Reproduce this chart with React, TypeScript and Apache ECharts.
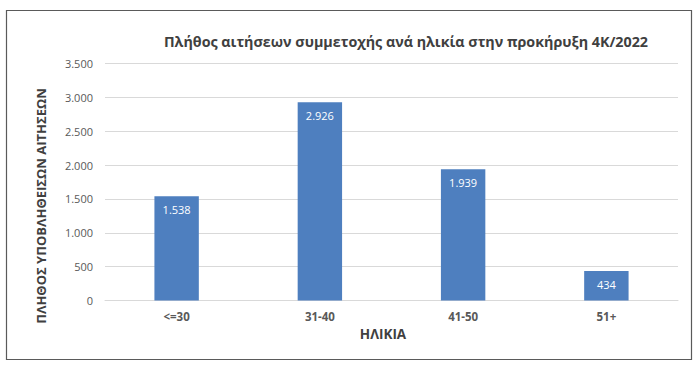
import React, { useEffect, useRef } from "react";
import * as echarts from "echarts";

const categories = ["<=30", "31-40", "41-50", "51+"];
const values = [1538, 2926, 1939, 434];
const yMin = 0;
const yMax = 3500;
const yInterval = 500;
const titleText = "Πλήθος αιτήσεων συμμετοχής ανά ηλικία στην προκήρυξη 4Κ/2022";
const xName = "ΗΛΙΚΙΑ";
const yName = "ΠΛΗΘΟΣ ΥΠΟΒΛΗΘΕΙΣΩΝ ΑΙΤΗΣΕΩΝ";

const fmt = (v: number) => String(v).replace(/\B(?=(\d{3})+(?!\d))/g, ".");

const FONT = "'Open Sans', 'Noto Sans', sans-serif";

export default function App() {
  const ref = useRef<HTMLDivElement>(null);
  useEffect(() => {
    if (!ref.current) return;
    const chart = echarts.init(ref.current, null, { renderer: "svg" });
    chart.setOption({
      animation: false,
      backgroundColor: "#ffffff",
      title: {
        text: titleText,
        left: 401,
        top: 29,
        textAlign: "center",
        textStyle: { fontFamily: FONT, fontSize: 14.3, fontWeight: "bold", color: "#404040" },
      },
      graphic: [
        {
          type: "rect",
          shape: { x: 6.5, y: 10.5, width: 685, height: 349 },
          style: { fill: "none", stroke: "#5a5a5a", lineWidth: 1.2 },
          silent: true,
        },
        {
          type: "text",
          x: 41,
          y: 206,
          rotation: Math.PI / 2,
          style: {
            text: yName,
            fontFamily: FONT,
            fontSize: 13,
            fontWeight: "bold",
            fill: "#404040",
            align: "center",
            verticalAlign: "middle",
          },
        },
        {
          type: "text",
          x: 383,
          y: 334,
          style: {
            text: xName,
            fontFamily: FONT,
            fontSize: 13.5,
            fontWeight: "bold",
            fill: "#404040",
            align: "center",
            verticalAlign: "middle",
          },
        },
      ],
      grid: { left: 105, right: 22, top: 63.5, bottom: 67.5, containLabel: false },
      xAxis: {
        type: "category",
        data: categories,
        axisLine: { show: true, lineStyle: { color: "#d9d9d9", width: 1 } },
        axisTick: { show: false },
        axisLabel: { fontFamily: FONT, fontSize: 11.5, fontWeight: "bold", color: "#595959", margin: 10 },
      },
      yAxis: {
        type: "value",
        min: yMin,
        max: yMax,
        interval: yInterval,
        axisLine: { show: false },
        axisTick: { show: false },
        splitLine: { lineStyle: { color: "#d9d9d9", width: 1 } },
        axisLabel: {
          fontFamily: FONT,
          fontSize: 11,
          color: "#595959",
          margin: 12,
          formatter: (v: number) => fmt(v),
        },
      },
      series: [
        {
          type: "bar",
          data: values,
          barWidth: "31%",
          itemStyle: { color: "#4e7fbf" },
          label: {
            show: true,
            position: "insideTop",
            distance: 8,
            color: "#ffffff",
            fontFamily: FONT,
            fontSize: 11,
            formatter: (p: any) => fmt(p.value),
          },
        },
      ],
    });
    return () => chart.dispose();
  }, []);
  return (
    <div
      ref={ref}
      style={{ position: "fixed", left: 0, top: 0, width: 700, height: 368 }}
    />
  );
}
